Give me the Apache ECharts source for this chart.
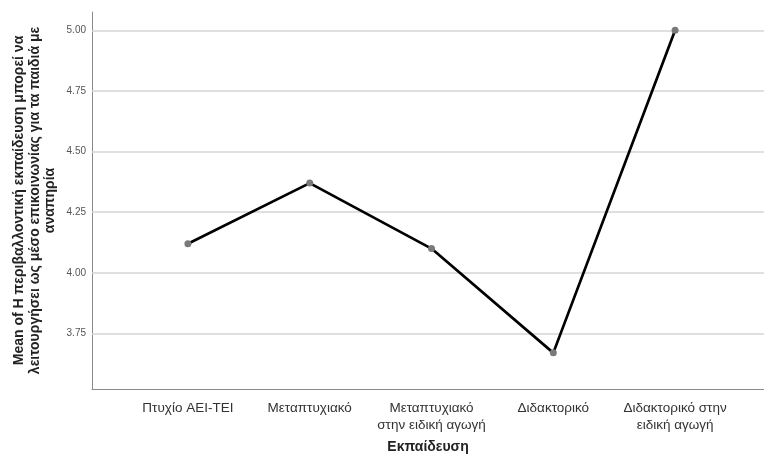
<!DOCTYPE html>
<html>
<head>
<meta charset="utf-8">
<script src="https://cdn.jsdelivr.net/npm/echarts@6/dist/echarts.min.js"></script>
<style>html,body{margin:0;padding:0;background:#fff;}#c{width:764px;height:455px;}</style>
</head>
<body>
<div id="c"></div>
<script>
const categories = ['Πτυχίο ΑΕΙ-ΤΕΙ', 'Μεταπτυχιακό', 'Μεταπτυχιακό\nστην ειδική αγωγή', 'Διδακτορικό', 'Διδακτορικό στην\nειδική αγωγή'];
const means = [4.12, 4.37, 4.10, 3.67, 5.00];
const yTicks = [3.75, 4.00, 4.25, 4.50, 4.75, 5.00];
const yTitle = 'Mean of Η περιβαλλοντική εκπαίδευση μπορεί να\nλειτουργήσει ως μέσο επικοινωνίας για τα παιδιά με\nαναπηρία';
const xTitle = 'Εκπαίδευση';

const yMin = 3.521, yMax = 5.0755;
const font = 'Arial, "Liberation Sans", sans-serif';
const chart = echarts.init(document.getElementById('c'), null, {renderer: 'canvas'});
chart.setOption({
  animation: false,
  grid: [
    {left: 92, right: 0, top: 12, bottom: 66, containLabel: false, outerBoundsMode: 'none'},
    {left: 127, right: 28, top: 12, bottom: 66, containLabel: false, outerBoundsMode: 'none'}
  ],
  xAxis: [
    {gridIndex: 0, type: 'value', min: 0, max: 1, axisLine: {show: true, onZero: false, lineStyle: {color: '#8a8a8a', width: 1}},
     axisTick: {show: false}, axisLabel: {show: false}, splitLine: {show: false},
     name: xTitle, nameLocation: 'middle', nameGap: 51,
     nameTextStyle: {fontFamily: font, fontSize: 14, fontWeight: 'bold', color: '#222'}},
    {gridIndex: 1, type: 'category', data: categories, boundaryGap: true,
     axisLine: {show: false}, axisTick: {show: false},
     axisLabel: {interval: 0, margin: 11, fontFamily: font, fontSize: 13.5, color: '#333', lineHeight: 17}}
  ],
  yAxis: [
    {gridIndex: 0, type: 'value', min: yMin, max: yMax,
     axisLine: {show: true, lineStyle: {color: '#8a8a8a', width: 1}}, axisTick: {show: false},
     axisLabel: {show: false},
     splitLine: {show: false},
     name: yTitle, nameLocation: 'middle', nameRotate: 90, nameGap: 34,
     nameTextStyle: {fontFamily: font, fontSize: 14, fontWeight: 'bold', color: '#222', lineHeight: 15.5, align: 'center'}},
    {gridIndex: 1, type: 'value', min: yMin, max: yMax, show: false}
  ],
  series: [
    {type: 'line', xAxisIndex: 1, yAxisIndex: 1, data: means, symbol: 'circle', symbolSize: 7,
     lineStyle: {color: '#000', width: 2.7}, itemStyle: {color: '#7a7a7a'}, z: 5},
    {type: 'line', xAxisIndex: 0, yAxisIndex: 0, data: [], z: 1,
     markLine: {silent: true, symbol: 'none', animation: false,
       lineStyle: {color: '#d4d4d4', width: 1.5, type: 'solid'},
       label: {show: true, position: 'start', distance: 6, formatter: p => p.value.toFixed(2), fontFamily: font, fontSize: 10, color: '#555'},
       data: yTicks.map(v => ({yAxis: v}))}}
  ]
});
</script>
</body>
</html>
